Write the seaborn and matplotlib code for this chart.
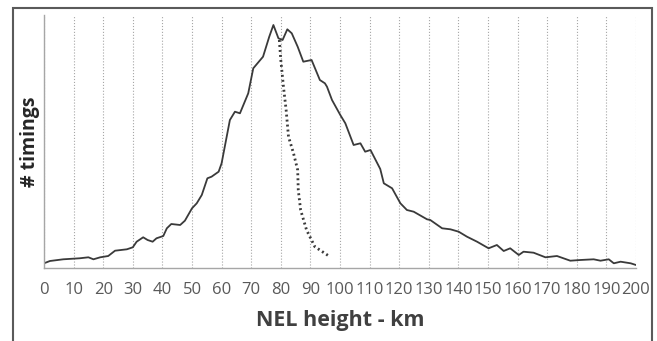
import matplotlib
matplotlib.use("Agg")
import matplotlib.pyplot as plt
import matplotlib.patches as mpatches
import seaborn as sns
import numpy as np
import pandas as pd

# solid curve: all timings (height km, count in arbitrary units)
nel_height = [0, 2, 6.5, 12, 15, 16.7, 19, 21.7, 24, 28, 30, 31.3, 33.5, 35, 36.7, 38,
              40.3, 41.5, 43, 46, 47.6, 50, 51.6, 53.3, 55.2, 56.6, 59, 60, 62.8, 64.5,
              66.2, 69, 70.7, 74, 76.1, 77.5, 79.2, 80.6, 82.2, 83.7, 85.7, 87.6, 90.4,
              93.2, 94.9, 95.6, 97.3, 100.1, 101.8, 104.6, 106.9, 108.5, 110.3, 113.6,
              114.8, 117.6, 120.4, 122.6, 124.9, 129.4, 130.5, 134.5, 137.3, 140.1,
              142.9, 146.3, 150.2, 153, 155.3, 157.5, 160.4, 162, 165.4, 169.4, 173.3,
              177.8, 181.2, 185.7, 188, 190.8, 192.5, 194.8, 198.2, 200]
timings = [4.7, 7, 8.7, 9.7, 10.7, 8.7, 10.7, 12, 17.3, 18.7, 20.7, 26.3, 30.7, 28, 26.3,
           29.7, 32, 39.7, 44, 43, 47.3, 59.7, 64.7, 73, 89.7, 91.3, 96.3, 104.7, 148,
           156.3, 154.7, 174.7, 199.7, 211.3, 231.3, 243, 229.7, 228, 238.7, 234.7,
           221.3, 206.3, 208, 188, 184.7, 181.3, 168, 153, 144.7, 123, 124.7, 116.3, 118,
           99, 84.7, 79.7, 64.7, 58, 56.3, 48.7, 48, 39.7, 38.7, 36.3, 31.3, 26.3, 19.7,
           23, 17, 19.7, 13, 16.3, 15.3, 10.7, 12, 7.3, 8, 8.7, 7.3, 8.7, 4.7, 6.3, 4.7, 3]

# dotted curve
dot_height = [79.5, 80, 80.9, 81.8, 82.6, 84.3, 85.7, 85.9, 86.7, 88.7, 91.5, 96.6]
dot_timings = [228, 208, 181.3, 158, 131.3, 114.7, 98, 78, 58, 38, 21.3, 11.3]

sns.set_style("white")
plt.rcParams['font.family'] = ['Open Sans', 'DejaVu Sans']

fig = plt.figure(figsize=(6.57, 3.41), dpi=100)
ax = fig.add_axes([44 / 657, 73 / 341, 592 / 657, 253 / 341])

solid = pd.DataFrame({'h': nel_height, 'n': timings})
dotted = pd.DataFrame({'h': dot_height, 'n': dot_timings})
sns.lineplot(data=solid, x='h', y='n', ax=ax, color='#3a3a3a', lw=1.3)
sns.lineplot(data=dotted, x='h', y='n', ax=ax, color='#3a3a3a', lw=2.0,
             linestyle=(0, (0.7, 1.1)))

ax.set_xlim(0, 200)
ax.set_ylim(0, 253)
ax.set_xticks(np.arange(0, 201, 10))
ax.set_yticks([])
ax.grid(axis='x', color='#a6a6a6', linestyle=':', lw=0.8)
ax.tick_params(axis='x', direction='out', length=7, color='#a6a6a6',
               labelsize=12, labelcolor='#595959', pad=3)
for t in ax.xaxis.get_major_ticks():
    t.tick1line.set_linestyle(':')
for s in ['top', 'right']:
    ax.spines[s].set_visible(False)
for s in ['left', 'bottom']:
    ax.spines[s].set_color('#a6a6a6')
    ax.spines[s].set_linewidth(1.0)

ax.set_xlabel('NEL height - km', fontsize=15.5, fontweight='bold', color='#404040',
              labelpad=9)
ax.set_ylabel('# timings', fontsize=14, fontweight='bold', color='#262626',
              labelpad=3)

frame = mpatches.Rectangle((13 / 657, -0.1), 639 / 657, 1.1 - 8 / 341,
                           transform=fig.transFigure, fill=False,
                           edgecolor='#5a5a5a', lw=1.5)
fig.patches.append(frame)

fig.savefig('out.png', dpi=100)
